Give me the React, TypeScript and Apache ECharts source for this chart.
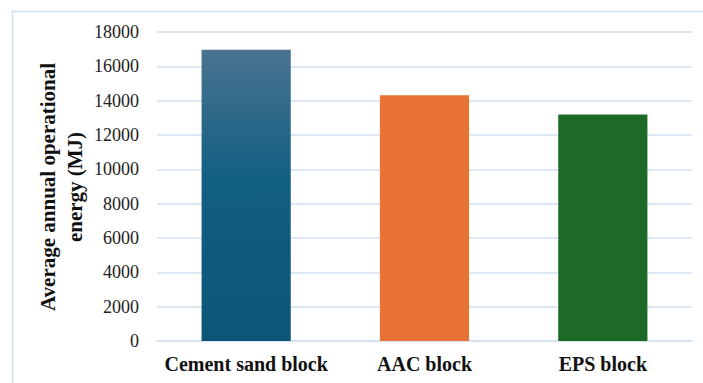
import React, { useEffect, useRef } from "react";
import * as echarts from "echarts";

const categories = ["Cement sand block", "AAC block", "EPS block"];
const values = [16970, 14320, 13200];
const yTicks = { min: 0, max: 18000, interval: 2000 };
const yTitle = "Average annual operational\nenergy (MJ)";

const SERIF = "'Liberation Serif', 'Times New Roman', serif";

export default function App() {
  const ref = useRef<HTMLDivElement>(null);
  useEffect(() => {
    const chart = echarts.init(ref.current!, null, { renderer: "svg" });
    const colors = [
      new echarts.graphic.LinearGradient(0, 0, 0, 1, [
        { offset: 0, color: "#4a7391" },
        { offset: 0.45, color: "#115f82" },
        { offset: 1, color: "#0d5577" },
      ]),
      "#e87234",
      "#1c6a26",
    ];
    chart.setOption({
      animation: false,
      backgroundColor: "#ffffff",
      grid: { left: 157, right: 11, top: 32, bottom: 42 },
      xAxis: {
        type: "category",
        data: categories,
        axisLine: { show: true, lineStyle: { color: "#d3e1f1", width: 1.5 } },
        axisTick: { show: false },
        axisLabel: {
          interval: 0,
          color: "#111",
          fontFamily: SERIF,
          fontWeight: "bold",
          fontSize: 20,
          margin: 13,
        },
      },
      yAxis: {
        type: "value",
        min: yTicks.min,
        max: yTicks.max,
        interval: yTicks.interval,
        axisLine: { show: false },
        axisTick: { show: false },
        splitLine: { lineStyle: { color: "#d3e1f1", width: 1.5 } },
        axisLabel: {
          color: "#222",
          fontFamily: SERIF,
          fontSize: 18,
          margin: 18,
          formatter: (v: number) => String(v),
        },
      },
      series: [
        {
          type: "bar",
          data: values.map((v, i) => ({ value: v, itemStyle: { color: colors[i] } })),
          barWidth: "50%",
        },
      ],
      graphic: [
        {
          type: "rect",
          shape: { x: 12.5, y: 11.5, width: 700, height: 400 },
          style: { fill: "none", stroke: "#cfe0f2", lineWidth: 1.5 },
          silent: true,
        },
        {
          type: "text",
          x: 61,
          y: 187,
          rotation: Math.PI / 2,
          style: {
            text: yTitle,
            fill: "#111",
            font: "bold 21px " + SERIF,
            textAlign: "center",
            textVerticalAlign: "middle",
            lineHeight: 27,
          },
        },
      ],
    });
    return () => chart.dispose();
  }, []);
  return <div ref={ref} style={{ width: 703, height: 383, position: "absolute", left: 0, top: 0 }} />;
}
